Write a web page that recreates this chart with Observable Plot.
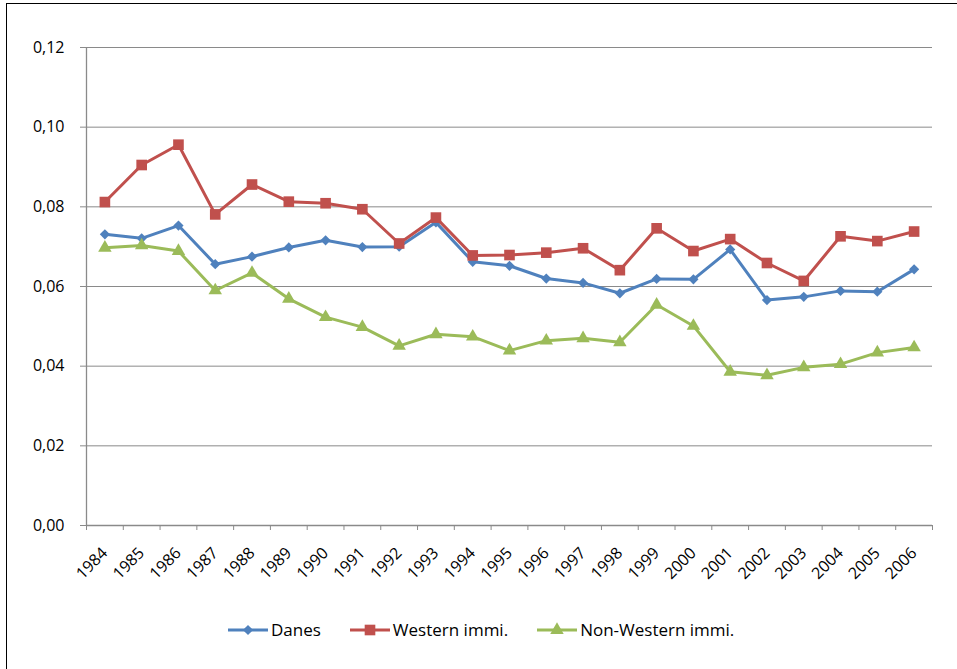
<!DOCTYPE html>
<html>
<head>
<meta charset="utf-8">
<script src="https://cdn.jsdelivr.net/npm/d3@7"></script>
<script src="https://cdn.jsdelivr.net/npm/@observablehq/plot@0.6"></script>
<style>
  html, body { margin: 0; padding: 0; background: #fff; overflow: hidden; width: 957px; height: 669px; }
  #chart { position: absolute; left: 0; top: 0; }
  #frame { position: absolute; left: 6px; top: 3px; width: 1200px; height: 1200px; border: 1px solid #000; pointer-events: none; }
  #legend { position: absolute; left: 228px; top: 618px; display: flex; gap: 29px; align-items: center;
            font-family: "Open Sans", sans-serif; font-size: 17px; color: #000; }
  .item { display: flex; align-items: center; gap: 3px; }
  .item svg { display: block; }
</style>
</head>
<body>
<div id="chart"></div>
<div id="legend"></div>
<div id="frame"></div>
<script>
const years = [1984,1985,1986,1987,1988,1989,1990,1991,1992,1993,1994,1995,1996,1997,1998,1999,2000,2001,2002,2003,2004,2005,2006];
const danes = [0.0731,0.0721,0.0753,0.0656,0.0675,0.0698,0.0716,0.0699,0.0700,0.0761,0.0662,0.0652,0.0620,0.0609,0.0583,0.0619,0.0618,0.0693,0.0566,0.0574,0.0589,0.0587,0.0643];
const western = [0.0812,0.0905,0.0956,0.0781,0.0856,0.0813,0.0809,0.0794,0.0708,0.0773,0.0678,0.0679,0.0685,0.0696,0.0641,0.0746,0.0689,0.0719,0.0659,0.0614,0.0726,0.0714,0.0738];
const nonWestern = [0.0697,0.0703,0.0689,0.0590,0.0634,0.0569,0.0523,0.0498,0.0451,0.0480,0.0474,0.0439,0.0464,0.0470,0.0460,0.0554,0.0501,0.0386,0.0377,0.0397,0.0405,0.0434,0.0447];
const yTicks = [0, 0.02, 0.04, 0.06, 0.08, 0.10, 0.12];
const seriesNames = ["Danes", "Western immi.", "Non-Western immi."];
const seriesColors = ["#4F81BD", "#C0504D", "#9BBB59"];
const seriesSymbols = ["diamond2", "square", "triangle"];
const seriesR = [4.6, 6.0, 5.0];

const seriesValues = [danes, western, nonWestern];
const series = seriesNames.map((name, i) => ({
  name, color: seriesColors[i], symbol: seriesSymbols[i], r: seriesR[i],
  rows: years.map((year, j) => ({year, value: seriesValues[i][j]}))
}));
const bounds = years.map(y => y - 0.5).concat([years[years.length - 1] + 0.5]);
const gridColor = "#8a8a8a";

const marks = [
  Plot.gridY(yTicks, {stroke: gridColor, strokeOpacity: 1, strokeWidth: 1}),
  Plot.ruleX([bounds[0]], {stroke: gridColor, strokeWidth: 1.3}),
  Plot.ruleY([0], {stroke: gridColor, strokeWidth: 1.3}),
  Plot.axisY(yTicks, {tickSize: 6, tickPadding: 16, stroke: gridColor, label: null, fontSize: 16,
    tickFormat: d => d.toFixed(2).replace(".", ","), fill: "#000"}),
  Plot.axisX(bounds, {tickSize: 5, tickFormat: () => "", stroke: gridColor, label: null}),
  Plot.axisX(years, {tickSize: 0, tickPadding: 25, tickRotate: -45, label: null, fontSize: 16,
    tickFormat: d => String(d), fill: "#000"})
];
for (const s of series) {
  marks.push(Plot.line(s.rows, {x: "year", y: "value", stroke: s.color, strokeWidth: 3, strokeLinejoin: "round"}));
  marks.push(Plot.dot(s.rows, {x: "year", y: "value", symbol: () => s.symbol, r: s.r, fill: s.color, stroke: "none"}));
}

const chart = Plot.plot({
  width: 957, height: 600,
  marginTop: 47, marginLeft: 86, marginRight: 25, marginBottom: 75,
  style: {fontFamily: "'Open Sans', sans-serif", fontSize: "16px", color: "#000", background: "#fff"},
  x: {type: "linear", domain: [bounds[0], bounds[bounds.length - 1]], axis: null},
  y: {domain: [0, 0.12], axis: null},
  symbol: {type: "identity"},
  marks
});
document.getElementById("chart").appendChild(chart);

const legend = d3.select("#legend");
const symMap = {diamond2: d3.symbolDiamond2, square: d3.symbolSquare, triangle: d3.symbolTriangle};
for (const s of series) {
  const item = legend.append("div").attr("class", "item");
  const svg = item.append("svg").attr("width", 40).attr("height", 16);
  svg.append("line").attr("x1", 0).attr("x2", 40).attr("y1", 8).attr("y2", 8)
    .attr("stroke", s.color).attr("stroke-width", 3);
  svg.append("path").attr("transform", "translate(20,8)")
    .attr("d", d3.symbol(symMap[s.symbol], Math.PI * s.r * s.r)()).attr("fill", s.color);
  item.append("span").text(s.name);
}
</script>
</body>
</html>
